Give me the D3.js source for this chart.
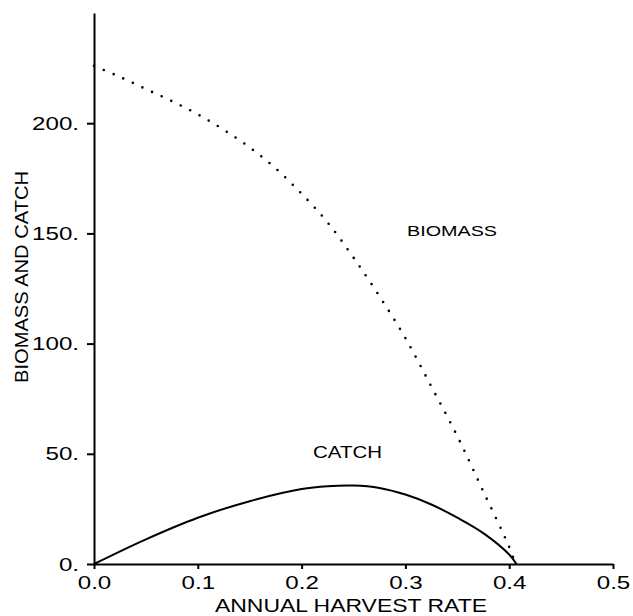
<!DOCTYPE html>
<html lang="en">
<head>
<meta charset="utf-8" />
<title>biomass and catch</title>
<script src="https://d3js.org/d3.v7.min.js"></script>
<style>
  html, body { margin: 0; padding: 0; background: #fff; }
  svg text { font-family: "Liberation Sans", Arial, sans-serif; fill: #000; }
</style>
</head>
<body>
<div id="chart"></div>
<script>
// harvest rates where the curves were read
var biomassRate = [0, 0.025, 0.05, 0.075, 0.1, 0.125, 0.15, 0.175, 0.2, 0.225, 0.25, 0.275, 0.3, 0.325, 0.35, 0.375, 0.4, 0.406];
var biomassValue = [226, 221, 215.5, 210, 204, 197, 189, 179.5, 168, 155, 139, 121.5, 102.5, 80.5, 58, 33, 7.7, 0];

var catchRate = [0, 0.05, 0.1, 0.15, 0.2, 0.225, 0.25, 0.275, 0.3, 0.325, 0.35, 0.375, 0.4, 0.407];
var catchValue = [0, 11.2, 21, 28.5, 34, 35.3, 35.6, 34.5, 31.5, 27, 21, 14, 4.3, 0];

var xTicks = [0, 0.1, 0.2, 0.3, 0.4, 0.5];
var yTicks = [0, 50, 100, 150, 200];

var width = 633, height = 616;
var stretch = 1.27; // the plotter font is wider than Arial

var svg = d3.select("#chart").append("svg")
    .attr("width", width)
    .attr("height", height);

// scales, pixel positions fitted to the picture
var x = d3.scaleLinear().domain([0, 0.5]).range([94, 613]);
var y = d3.scaleLinear().domain([0, 250]).range([564, 13]);

// x axis
var xAxis = d3.axisBottom(x)
    .tickValues(xTicks)
    .tickFormat(d3.format(".1f"))
    .tickSize(5)
    .tickSizeOuter(0)
    .tickPadding(7);

var gx = svg.append("g")
    .attr("transform", "translate(0," + y(0) + ")")
    .call(xAxis);
gx.select(".domain").attr("stroke-width", 2);
gx.selectAll(".tick line").attr("stroke-width", 2);
gx.selectAll("text")
    .attr("font-size", 19)
    .attr("font-family", null)
    .attr("transform", "scale(" + stretch + ",1)");

// y axis
var yAxis = d3.axisLeft(y)
    .tickValues(yTicks)
    .tickFormat(function(d){ return d + "."; })
    .tickSize(7)
    .tickSizeOuter(0)
    .tickPadding(7);

var gy = svg.append("g")
    .attr("transform", "translate(" + x(0) + ",0)")
    .call(yAxis);
gy.select(".domain").attr("stroke-width", 2);
gy.selectAll(".tick line").attr("stroke-width", 2);
gy.selectAll("text")
    .attr("font-size", 19)
    .attr("font-family", null)
    .attr("x", -15 / stretch)
    .attr("transform", "scale(" + stretch + ",1)");

// line generators
var biomassData = biomassRate.map(function(r, i){ return [r, biomassValue[i]]; });
var catchData = catchRate.map(function(r, i){ return [r, catchValue[i]]; });

var line = d3.line()
    .x(function(d){ return x(d[0]); })
    .y(function(d){ return y(d[1]); })
    .curve(d3.curveCatmullRom);

// biomass as a dotted curve
svg.append("path")
    .datum(biomassData)
    .attr("d", line)
    .attr("fill", "none")
    .attr("stroke", "#000")
    .attr("stroke-width", 2.6)
    .attr("stroke-linecap", "round")
    .attr("stroke-dasharray", "0,10.6");

// catch as a solid curve
svg.append("path")
    .datum(catchData)
    .attr("d", line)
    .attr("fill", "none")
    .attr("stroke", "#000")
    .attr("stroke-width", 2);

// curve labels
svg.append("text")
    .attr("x", 407).attr("y", 236)
    .attr("font-size", 15.5)
    .attr("textLength", 90)
    .attr("lengthAdjust", "spacingAndGlyphs")
    .text("BIOMASS");

svg.append("text")
    .attr("x", 313).attr("y", 458)
    .attr("font-size", 16)
    .attr("textLength", 69)
    .attr("lengthAdjust", "spacingAndGlyphs")
    .text("CATCH");

// axis titles
svg.append("text")
    .attr("x", 215).attr("y", 612)
    .attr("font-size", 19)
    .attr("textLength", 272)
    .attr("lengthAdjust", "spacingAndGlyphs")
    .text("ANNUAL HARVEST RATE");

svg.append("text")
    .attr("transform", "translate(28,383) rotate(-90)")
    .attr("font-size", 19)
    .attr("textLength", 212)
    .attr("lengthAdjust", "spacingAndGlyphs")
    .text("BIOMASS AND CATCH");
</script>
</body>
</html>
